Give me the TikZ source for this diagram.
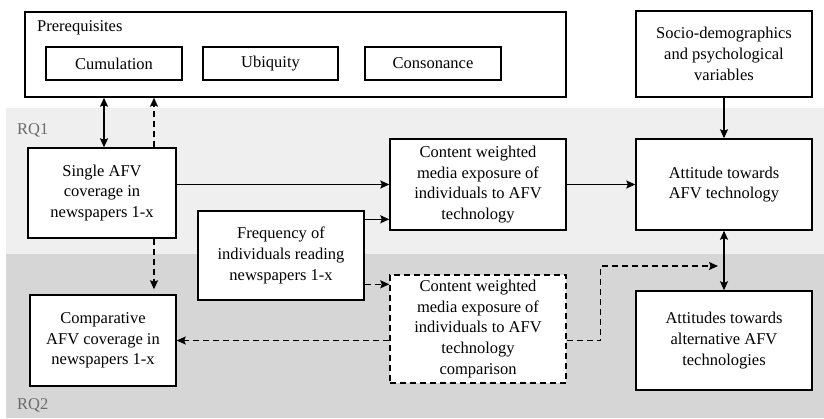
\documentclass[tikz,border=0pt]{standalone}
\usepackage{fontspec}
\setmainfont{Liberation Serif}
\usetikzlibrary{positioning, arrows.meta}
\definecolor{rqone}{HTML}{EFEFEF}
\definecolor{rqtwo}{HTML}{D6D6D6}
\definecolor{rqtext}{HTML}{6B6B6B}
\tikzset{
>={Stealth[length=9pt, width=8pt, inset=1.5pt]}, % filled arrow heads
every node/.style={font=\fontsize{16.5}{20.7}\selectfont, align=center}, % Times-like text
box/.style={draw, fill=white, line width=1.4pt, inner sep=0pt}, % plain white boxes
dashbox/.style={box, dash pattern=on 6pt off 4pt}, % the comparison box
link/.style={->, line width=1.4pt}, % solid connectors
dashlink/.style={link, dash pattern=on 6pt off 4pt}, % dashed connectors
rq/.style={text=rqtext, anchor=west, inner sep=0pt}, % band labels
}

\begin{document}
\begin{tikzpicture}[x=1pt, y=-1pt]
        \useasboundingbox (0,0) rectangle (824,418);
        % bands
        \fill[rqone] (6,108) rectangle (824,254);
        \fill[rqtwo] (6,254) rectangle (824,418);
        \node[rq] (rq1) at (17,130) {RQ1};
        \node[rq] (rq2) at (17,405) {RQ2};

        % prerequisites
        \node[box, minimum width=541pt, minimum height=85pt] (prereq) at (295.5,54.5) {};
        \node[anchor=west, inner sep=0pt] (prereqtitle) at (37,28) {Prerequisites};
        \node[box, minimum width=136pt, minimum height=33pt] (cum) at (114,63.5) {Cumulation};
        \node[box, minimum width=135pt, minimum height=33pt] (ubi) at (270.5,63.5) {Ubiquity};
        \node[box, minimum width=136pt, minimum height=33pt] (cons) at (433,63.5) {Consonance};

        \node[box, minimum width=176pt, minimum height=86pt] (socio) at (724,54) {Socio-demographics\\and psychological\\variables};
        \node[box, minimum width=176pt, minimum height=91pt] (att) at (724,184.5) {Attitude towards\\AFV technology};
        \node[box, minimum width=176pt, minimum height=99pt] (alt) at (724,340.5) {Attitudes towards\\alternative AFV\\technologies};

        \node[box, minimum width=148pt, minimum height=90pt] (single) at (102,193) {Single AFV\\coverage in\\newspapers 1-x};
        \node[box, minimum width=176pt, minimum height=91pt] (cw) at (478,184.5) {Content weighted\\media exposure of\\individuals to AFV\\technology};
        \node[box, minimum width=166pt, minimum height=89pt] (freq) at (281,255.5) {Frequency of\\individuals reading\\newspapers 1-x};
        \node[box, minimum width=146pt, minimum height=91pt] (comp) at (103,340.5) {Comparative\\AFV coverage in\\newspapers 1-x};
        \node[dashbox, minimum width=176pt, minimum height=108pt] (cwc) at (478,329) {Content weighted\\media exposure of\\individuals to AFV\\technology\\comparison};

        \coordinate (cwcin) at ([yshift=-10pt]cwc.north west);
        \coordinate (altin) at (718,266);

        \draw[<->, line width=1.4pt] ([xshift=2pt]single.north) -- ([xshift=2pt]single.north |- prereq.south);
        \draw[dashlink] ([xshift=52pt]single.north) -- ([xshift=52pt]single.north |- prereq.south);
        \draw[dashlink, shorten >=5pt] ([xshift=52pt]single.south) -- ([xshift=52pt]single.south |- comp.north);
        \draw[link] (single.east |- cw.west) -- (cw.west);
        \draw[link] ([yshift=-9pt]freq.north east) -- ([yshift=-9pt]freq.north east -| cw.west);
        \draw[dashlink] (freq.east |- cwcin) -- (cwcin);
        \draw[dashlink] (cwc.west |- comp.east) -- (comp.east);
        \draw[dashlink] (cwc.east |- comp.east) -- ++(34,0) |- (altin);
        \draw[link] (cw.east) -- (att.west);
        \draw[link] (socio) -- (att);
        \draw[<->, line width=1.4pt] (att) -- (alt);
\end{tikzpicture}
\end{document}
